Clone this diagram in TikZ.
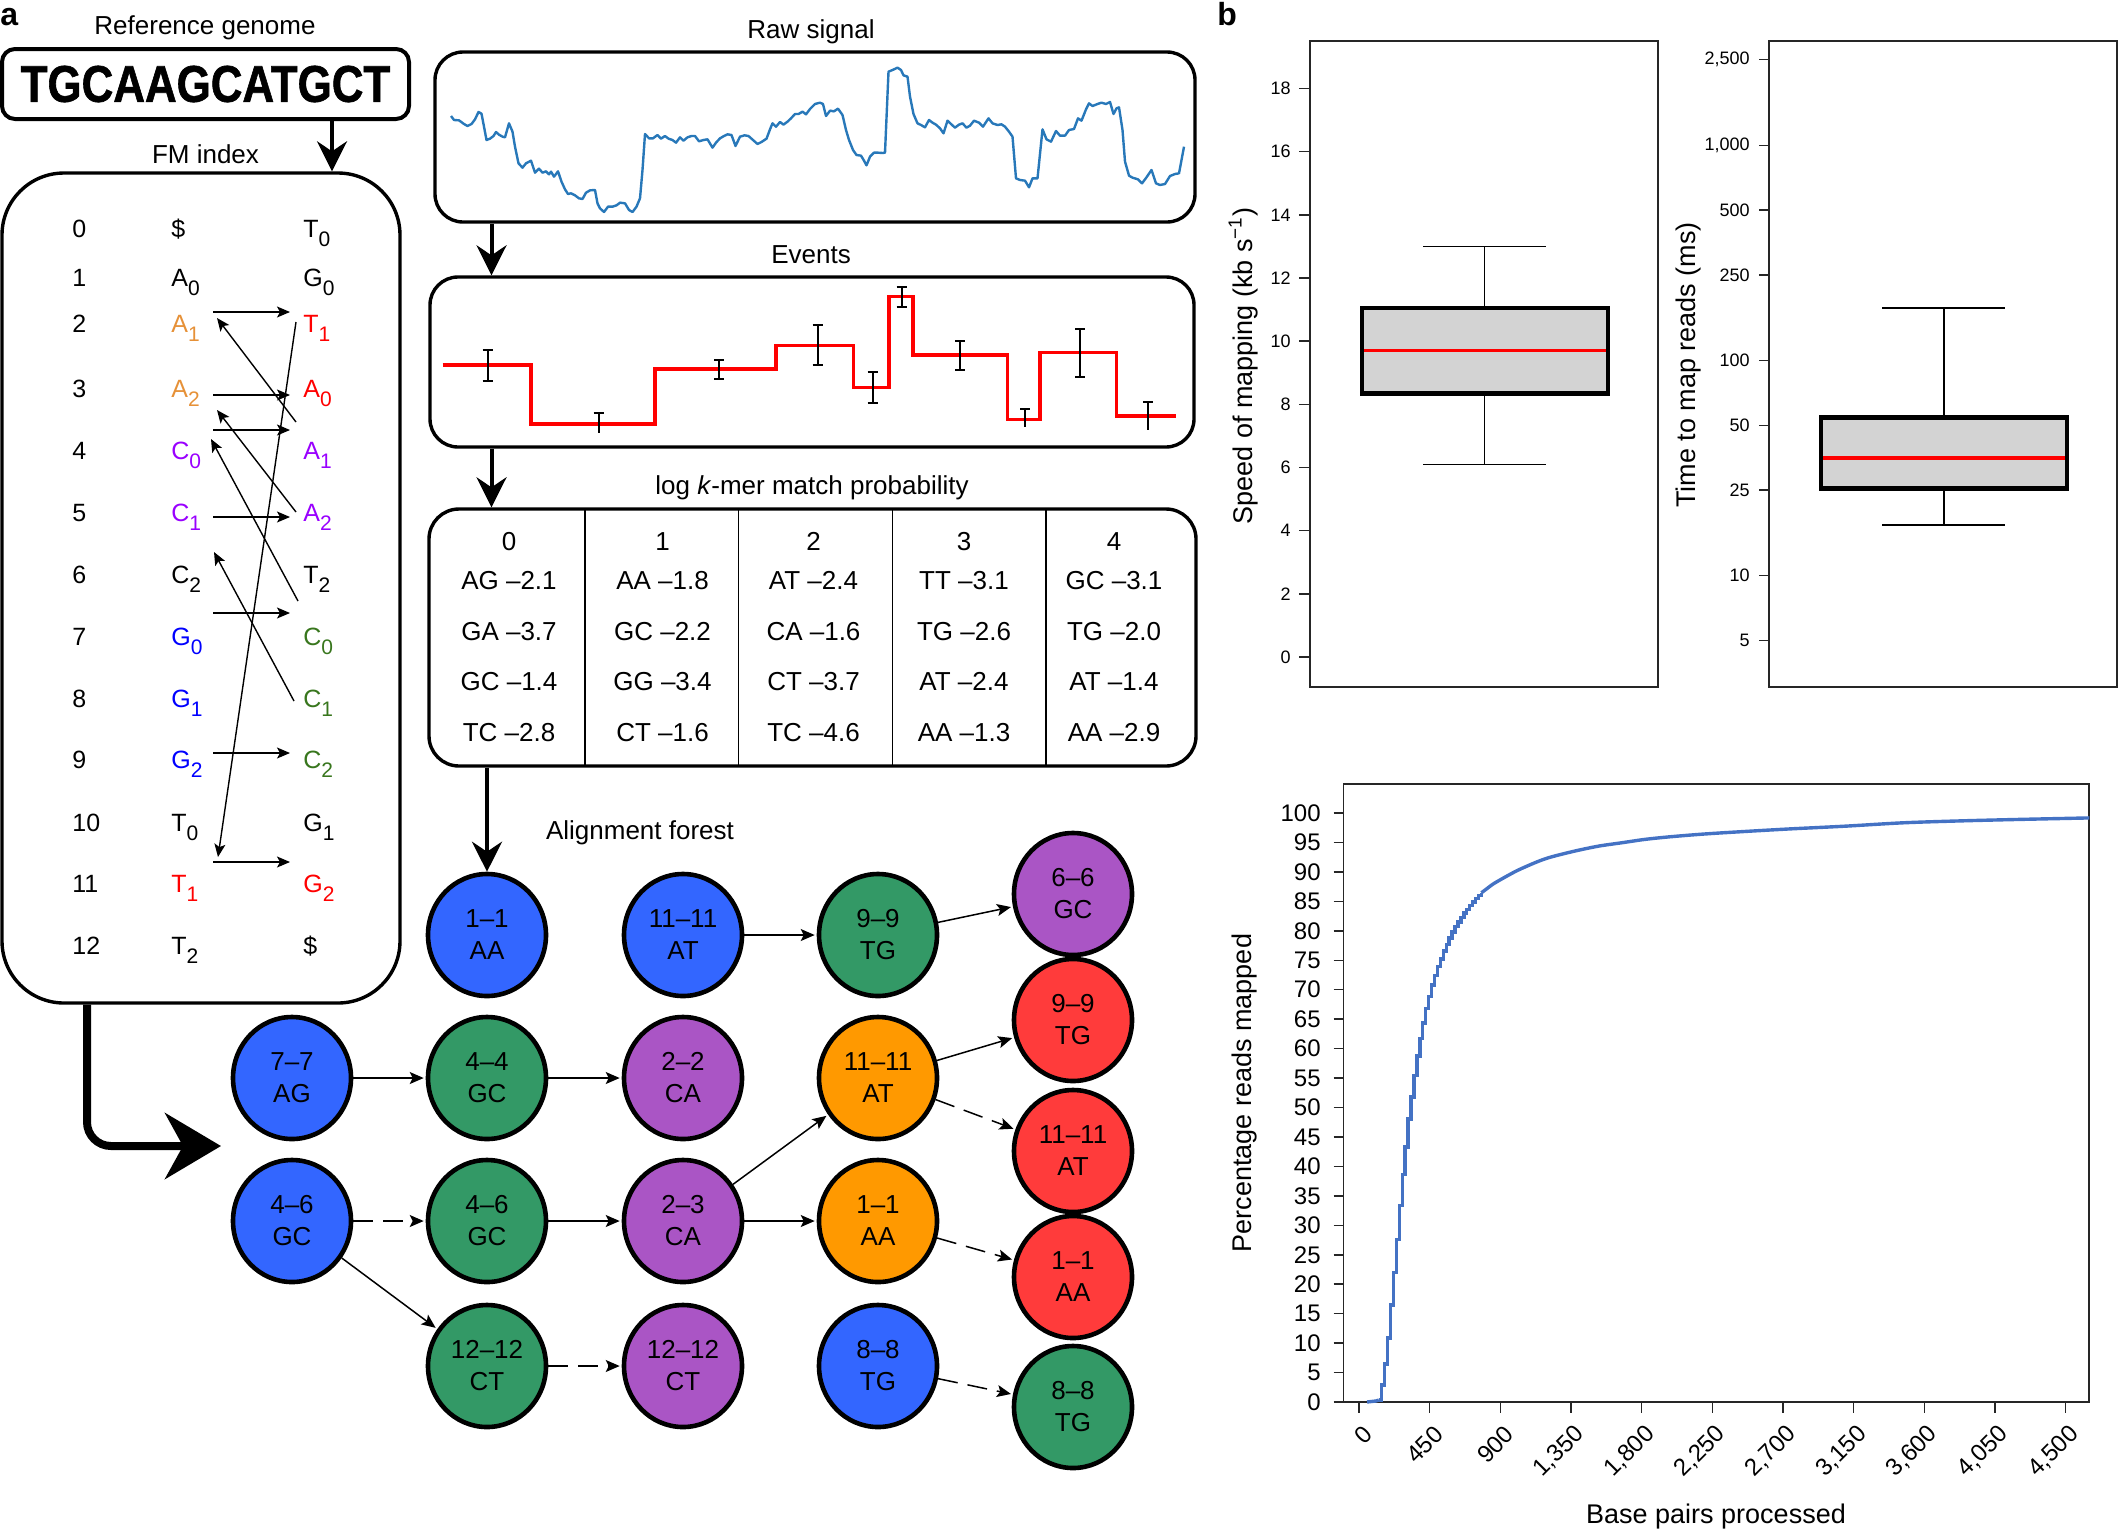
\documentclass[tikz,border=0pt]{standalone}
\usepackage{fontspec}
\setmainfont{Liberation Sans}
\newfontfamily\genomefont{Liberation Sans Bold}[FakeBold=1.3]
\usetikzlibrary{shapes.geometric,arrows.meta}
\definecolor{fmorange}{RGB}{230,145,56}
\definecolor{fmred}{RGB}{255,0,0}
\definecolor{fmpurple}{RGB}{153,0,255}
\definecolor{fmblue}{RGB}{0,0,255}
\definecolor{fmgreen}{RGB}{56,118,29}
\definecolor{nblue}{RGB}{51,102,255}
\definecolor{ngreen}{RGB}{51,153,102}
\definecolor{npurple}{RGB}{170,85,197}
\definecolor{norange}{RGB}{255,153,0}
\definecolor{nred}{RGB}{255,59,59}
\definecolor{sigblue}{RGB}{40,120,185}
\definecolor{curveblue}{RGB}{68,114,196}
\definecolor{boxgray}{RGB}{211,211,211}
\newcommand{\fs}[2]{#1\raisebox{-4.5pt}{\fontsize{10.5}{10.5}\selectfont #2}}
\begin{document}
\begin{tikzpicture}[x=0.5pt,y=-0.5pt,
  txt/.style={inner sep=0pt, font=\fontsize{13}{15.6}\selectfont},
  axlab/.style={inner sep=0pt, font=\fontsize{13.5}{16}\selectfont},
  fmtxt/.style={inner sep=0pt, anchor=base west, font=\fontsize{12.5}{15}\selectfont},
  panelbox/.style={draw, line width=1.7pt, inner sep=0pt},
  bigarrow/.style={line width=2pt, -{Stealth[length=15pt,width=15pt,inset=5pt]}},
  fmarrow/.style={line width=0.7pt, -{Stealth[length=6.5pt,width=5.5pt,inset=1.5pt]}},
  fedge/.style={line width=0.75pt, -{Stealth[length=7pt,width=6pt,inset=1.5pt]}, shorten >=1pt},
  fdash/.style={fedge, dash pattern=on 10pt off 5pt},
  fnode/.style={ellipse, draw, line width=2.3pt, minimum width=59pt, minimum height=61pt, inner sep=0pt, align=center, font=\fontsize{13}{16}\selectfont},
  ticklab/.style={inner sep=0pt, anchor=east, font=\fontsize{9}{10}\selectfont},
  pticklab/.style={inner sep=0pt, anchor=east, font=\fontsize{12}{12}\selectfont},
  axisline/.style={line width=0.75pt, black!85},
  tabtxt/.style={inner sep=0pt, anchor=base, font=\fontsize{13}{15.6}\selectfont}
]
\useasboundingbox (0,0) rectangle (2119,1532);

% panel labels
\node[inner sep=0pt, anchor=base west, font=\fontsize{16}{16}\selectfont\bfseries] (lbla) at (0,25) {a};
\node[inner sep=0pt, anchor=base west, font=\fontsize{16}{16}\selectfont\bfseries] (lblb) at (1217,25) {b};

% reference genome
\node[txt, anchor=base] (refgen) at (205,34) {Reference genome};
\node[panelbox, line width=2pt, rounded corners=6.5pt, minimum width=203.5pt, minimum height=35pt] (genome) at (205.5,84)
  {\scalebox{0.85}[1]{\fontsize{25.8}{26}\genomefont TGCAAGCATGCT}};
\node[txt, anchor=base] (fmlabel) at (205.5,163) {FM index};
\node[panelbox, rounded corners=31pt, minimum width=199pt, minimum height=415pt] (fmbox) at (201,588) {};
\coordinate (gx) at (332,0);
\draw[bigarrow] (genome.south -| gx) -- (fmbox.north -| gx);

% FM index rows
\foreach \r/\yy in {0/237,1/286,2/332,3/397,4/459,5/521,6/583,7/645,8/707,9/768,10/831,11/892,12/954}{
  \node[fmtxt] (i\r) at (72,\yy) {\r};
}
\node[fmtxt] (m0) at (171,237) {\$};
\node[fmtxt] (r0) at (303,237) {\fs{T}{0}};
\node[fmtxt] (m1) at (171,286) {\fs{A}{0}};
\node[fmtxt] (r1) at (303,286) {\fs{G}{0}};
\node[fmtxt, text=fmorange] (m2) at (171,332) {\fs{A}{1}};
\node[fmtxt, text=fmred] (r2) at (303,332) {\fs{T}{1}};
\node[fmtxt, text=fmorange] (m3) at (171,397) {\fs{A}{2}};
\node[fmtxt, text=fmred] (r3) at (303,397) {\fs{A}{0}};
\node[fmtxt, text=fmpurple] (m4) at (171,459) {\fs{C}{0}};
\node[fmtxt, text=fmpurple] (r4) at (303,459) {\fs{A}{1}};
\node[fmtxt, text=fmpurple] (m5) at (171,521) {\fs{C}{1}};
\node[fmtxt, text=fmpurple] (r5) at (303,521) {\fs{A}{2}};
\node[fmtxt] (m6) at (171,583) {\fs{C}{2}};
\node[fmtxt] (r6) at (303,583) {\fs{T}{2}};
\node[fmtxt, text=fmblue] (m7) at (171,645) {\fs{G}{0}};
\node[fmtxt, text=fmgreen] (r7) at (303,645) {\fs{C}{0}};
\node[fmtxt, text=fmblue] (m8) at (171,707) {\fs{G}{1}};
\node[fmtxt, text=fmgreen] (r8) at (303,707) {\fs{C}{1}};
\node[fmtxt, text=fmblue] (m9) at (171,768) {\fs{G}{2}};
\node[fmtxt, text=fmgreen] (r9) at (303,768) {\fs{C}{2}};
\node[fmtxt] (m10) at (171,831) {\fs{T}{0}};
\node[fmtxt] (r10) at (303,831) {\fs{G}{1}};
\node[fmtxt, text=fmred] (m11) at (171,892) {\fs{T}{1}};
\node[fmtxt, text=fmred] (r11) at (303,892) {\fs{G}{2}};
\node[fmtxt] (m12) at (171,954) {\fs{T}{2}};
\node[fmtxt] (r12) at (303,954) {\$};

% FM arrows
\foreach \yy [count=\k] in {312,395,430,517,613,753,862}{
  \coordinate (hs\k) at (213,\yy);
  \coordinate (he\k) at (290,\yy);
  \draw[fmarrow] (hs\k) -- (he\k);
}
\coordinate (ds1) at (296,422); \coordinate (de1) at (217,318);
\coordinate (ds2) at (296,512); \coordinate (de2) at (217,410);
\coordinate (ds3) at (298,601); \coordinate (de3) at (211,439);
\coordinate (ds4) at (294,701); \coordinate (de4) at (214,552);
\coordinate (ds5) at (296,322); \coordinate (de5) at (218,857);
\foreach \k in {1,...,5}{\draw[fmarrow] (ds\k) -- (de\k);}

% raw signal
\node[txt, anchor=base] (rawlabel) at (811,38) {Raw signal};
\node[panelbox, rounded corners=14pt, minimum width=380pt, minimum height=85pt] (rawbox) at (815,137) {};
\node[txt, anchor=base] (evlabel) at (811,263) {Events};
\node[panelbox, rounded corners=14pt, minimum width=382pt, minimum height=85pt] (evbox) at (812,362) {};
\coordinate (ax) at (491.5,0);
\draw[bigarrow] (rawbox.south -| ax) -- (evbox.north -| ax);

\begin{scope}[shift={(420,30)}, xscale=0.5, yscale=0.33333]
\draw[sigblue, line width=1.2pt, line join=round] plot coordinates {
(62,258) (68,270) (78,271) (88,282) (95,288) (103,282) (110,268) (117,246) (123,251) (128,290) (133,330) (140,326) (147,318) (152,306) (158,314) (165,320) (170,322) (178,280) (185,305) (190,350) (197,400) (205,413) (212,400) (222,392) (230,428) (238,416) (245,428) (252,424) (258,433) (262,425) (268,440) (276,424) (283,455) (290,478) (296,492) (302,490) (310,496) (318,505) (325,507) (332,488) (340,481) (350,480) (355,520) (360,535) (368,546) (376,530) (385,530) (393,526) (400,518) (410,520) (418,540) (425,546) (433,530) (440,505) (445,420) (450,312) (458,325) (466,325) (475,315) (482,326) (490,318) (497,326) (505,330) (512,338) (520,322) (527,332) (535,322) (543,318) (550,318) (558,334) (567,330) (575,328) (585,353) (592,338) (600,325) (608,318) (615,313) (623,315) (631,348) (640,320) (649,316) (657,318) (666,330) (675,342) (683,336) (693,326) (700,298) (705,280) (712,290) (720,276) (727,284) (735,275) (742,265) (750,252) (757,252) (765,245) (772,253) (780,237) (790,222) (800,218) (806,222) (812,258) (820,242) (828,244) (836,236) (845,255) (852,300) (858,330) (866,360) (873,375) (882,377) (888,392) (893,406) (900,380) (908,368) (916,368) (925,369) (930,368) (937,125) (945,120) (955,113) (962,120) (967,136) (975,140) (980,200) (987,252) (995,280) (1002,285) (1010,292) (1018,270) (1025,278) (1032,284) (1040,295) (1047,310) (1055,272) (1062,282) (1070,293) (1078,284) (1085,280) (1093,293) (1100,287) (1108,272) (1118,278) (1126,290) (1137,265) (1145,280) (1155,285) (1163,283) (1170,290) (1178,305) (1185,320) (1192,445) (1200,450) (1210,452) (1218,472) (1225,445) (1235,445) (1245,298) (1253,328) (1262,335) (1272,303) (1280,317) (1290,317) (1298,300) (1308,297) (1316,265) (1323,272) (1332,238) (1338,220) (1345,228) (1355,222) (1363,218) (1372,222) (1380,216) (1387,252) (1393,235) (1398,232) (1405,300) (1410,395) (1418,437) (1425,443) (1436,448) (1444,460) (1452,444) (1463,420) (1472,460) (1480,465) (1490,462) (1500,438) (1510,432) (1518,430) (1528,350)};
\draw[red, line width=1.7pt] plot coordinates {
(45,1005) (222,1005) (222,1182) (470,1182) (470,1017) (712,1017) (712,947) (867,947) (867,1073) (938,1073) (938,800) (986,800) (986,975) (1175,975) (1175,1168) (1240,1168) (1240,967) (1393,967) (1393,1158) (1512,1158)};
\foreach \ex/\ea/\eb in {135/960/1052,598/990/1048,795/886/1005,905/1027/1120,963/772/830,1080/934/1020,1320/898/1040}{
  \draw[line width=1pt] (\ex,\ea) -- (\ex,\eb);
  \draw[line width=1pt] (\ex-10,\ea) -- (\ex+10,\ea);
  \draw[line width=1pt] (\ex-10,\eb) -- (\ex+10,\eb);
}
\foreach \ex/\ea/\eb in {357/1150/1208,1210/1138/1192,1456/1116/1200}{
  \draw[line width=1pt] (\ex,\ea) -- (\ex,\eb);
  \draw[line width=1pt] (\ex-10,\ea) -- (\ex+10,\ea);
}
\end{scope}

% k-mer table
\node[txt, anchor=base] (kmerlabel) at (812,494) {log \textit{k}-mer match probability};
\node[panelbox, rounded corners=15pt, minimum width=383.5pt, minimum height=128.5pt] (tabbox) at (812.5,637.5) {};
\draw[bigarrow] (evbox.south -| ax) -- (tabbox.north -| ax);
\foreach \sx in {585,738.5,892.5,1046}{\draw[line width=0.8pt] (\sx,509) -- (\sx,766);}
\foreach \c/\cx/\a/\b/\cc/\d in {
  0/509/AG –2.1/GA –3.7/GC –1.4/TC –2.8,
  1/662.5/AA –1.8/GC –2.2/GG –3.4/CT –1.6,
  2/813.5/AT –2.4/CA –1.6/CT –3.7/TC –4.6,
  3/964/TT –3.1/TG –2.6/AT –2.4/AA –1.3,
  4/1114/GC –3.1/TG –2.0/AT –1.4/AA –2.9}{
  \node[tabtxt] (th\c) at (\cx,550) {\c};
  \node[tabtxt] (ta\c) at (\cx,589) {\a};
  \node[tabtxt] (tb\c) at (\cx,640) {\b};
  \node[tabtxt] (tc\c) at (\cx,690.5) {\cc};
  \node[tabtxt] (td\c) at (\cx,741) {\d};
}

% alignment forest
\node[txt, anchor=base] (forestlabel) at (640,839) {Alignment forest};
\node[fnode, fill=nblue]   (f1)  at (487,935)  {1–1\\AA};
\node[fnode, fill=nblue]   (f2)  at (683,935)  {11–11\\AT};
\node[fnode, fill=ngreen]  (f3)  at (878,935)  {9–9\\TG};
\node[fnode, fill=npurple] (f4)  at (1073,894) {6–6\\GC};
\node[fnode, fill=nblue]   (f5)  at (292,1078) {7–7\\AG};
\node[fnode, fill=ngreen]  (f6)  at (487,1078) {4–4\\GC};
\node[fnode, fill=npurple] (f7)  at (683,1078) {2–2\\CA};
\node[fnode, fill=norange] (f8)  at (878,1078) {11–11\\AT};
\node[fnode, fill=nred]    (f9)  at (1073,1020) {9–9\\TG};
\node[fnode, fill=nred]    (f10) at (1073,1151) {11–11\\AT};
\node[fnode, fill=nblue]   (f11) at (292,1221) {4–6\\GC};
\node[fnode, fill=ngreen]  (f12) at (487,1221) {4–6\\GC};
\node[fnode, fill=npurple] (f13) at (683,1221) {2–3\\CA};
\node[fnode, fill=norange] (f14) at (878,1221) {1–1\\AA};
\node[fnode, fill=nred]    (f15) at (1073,1277) {1–1\\AA};
\node[fnode, fill=ngreen]  (f16) at (487,1366) {12–12\\CT};
\node[fnode, fill=npurple] (f17) at (683,1366) {12–12\\CT};
\node[fnode, fill=nblue]   (f18) at (878,1366) {8–8\\TG};
\node[fnode, fill=ngreen]  (f19) at (1073,1407) {8–8\\TG};
\draw[bigarrow] (tabbox.south -| f1) -- (f1.north);
\draw[fedge] (f2) -- (f3);
\draw[fedge] (f3) -- (f4);
\draw[fedge] (f5) -- (f6);
\draw[fedge] (f6) -- (f7);
\draw[fedge] (f8) -- (f9);
\draw[fdash] (f8) -- (f10);
\draw[fdash] (f11) -- (f12);
\draw[fedge] (f12) -- (f13);
\draw[fedge] (f13) -- (f8);
\draw[fedge] (f13) -- (f14);
\draw[fdash] (f14) -- (f15);
\draw[fedge] (f11) -- (f16);
\draw[fdash] (f16) -- (f17);
\draw[fdash] (f18) -- (f19);

% thick arrow FM -> forest
\coordinate (tx) at (87,0);
\coordinate (ttip) at (221,1146);
\draw[line width=4pt, rounded corners=12pt, -{Stealth[length=28pt,width=33pt,inset=9pt]}] (fmbox.south -| tx) |- (ttip);

% panel b: box plot 1
\draw[axisline] (1310,41) rectangle (1658,687);
\foreach \v in {0,2,...,18}{
  \draw[axisline] (1299,{657-31.58*\v}) -- (1310,{657-31.58*\v});
  \node[ticklab] (ya\v) at (1291,{657-31.58*\v}) {\v};
}
\draw[line width=0.8pt] (1484.5,246.5) -- (1484.5,308);
\draw[line width=0.8pt] (1484.5,393.3) -- (1484.5,464.4);
\draw[line width=0.8pt] (1423,246.5) -- (1546,246.5);
\draw[line width=0.8pt] (1423,464.4) -- (1546,464.4);
\filldraw[fill=boxgray, line width=2.2pt] (1362,308) rectangle (1608,393.3);
\draw[red, line width=1.6pt] (1364,350.7) -- (1606,350.7);
\node[axlab, rotate=90, anchor=base] (ylab1) at (1252,366) {Speed of mapping (kb s\textsuperscript{−1})};

% box plot 2
\draw[axisline] (1769,41) rectangle (2117,687);
\foreach \v/\lab in {5/5,10/10,25/25,50/50,100/100,250/250,500/500,1000/{1,000},2500/{2,500}}{
  \pgfmathsetmacro\yy{790.9-215.2*log10(\v)}
  \draw[axisline] (1759,\yy) -- (1769,\yy);
  \node[ticklab] (yb\v) at (1750,\yy) {\lab};
}
\draw[line width=0.8pt] (1944,308) -- (1944,417.3);
\draw[line width=0.8pt] (1944,488.5) -- (1944,525);
\draw[line width=0.8pt] (1882,308) -- (2005,308);
\draw[line width=0.8pt] (1882,525) -- (2005,525);
\filldraw[fill=boxgray, line width=2.2pt] (1821,417.3) rectangle (2067,488.5);
\draw[red, line width=1.6pt] (1823,458) -- (2065,458);
\node[axlab, rotate=90, anchor=base] (ylab2) at (1695,365) {Time to map reads (ms)};

% cumulative plot
\draw[axisline] (1343.6,784) rectangle (2089,1402);
\foreach \v in {0,5,...,100}{
  \draw[axisline] (1333.6,{1402-5.89*\v}) -- (1343.6,{1402-5.89*\v});
  \node[pticklab] (yp\v) at (1321,{1402-5.89*\v}) {\v};
}
\foreach \v/\lab in {0/0,450/450,900/900,1350/{1,350},1800/{1,800},2250/{2,250},2700/{2,700},3150/{3,150},3600/{3,600},4050/{4,050},4500/{4,500}}{
  \pgfmathsetmacro\xx{1358.9+0.15706*\v}
  \draw[axisline] (\xx,1402) -- (\xx,1413);
  \node[inner sep=0pt, rotate=45, anchor=east, font=\fontsize{12}{12}\selectfont] (xp\v) at ({\xx+9.5},1430) {\lab};
}
\begin{scope}[shift={(1200,770.3)}, xscale=0.5862, yscale=0.4859]
\draw[curveblue, line width=1.7pt] (285,1300) -- (300,1298) -- (305,1296);
\draw[curveblue, line width=1.7pt, const plot] plot coordinates {(305,1296) (310,1265) (315,1222) (320,1168) (325,1100) (330,1033) (335,965) (340,895) (345,832) (350,775) (355,718) (360,672) (365,628) (370,588) (375,552) (380,520) (385,490) (390,465) (395,442) (400,422) (405,404) (410,388) (415,372) (420,358) (425,345) (430,333) (435,322) (440,312) (445,303) (450,294) (455,286) (460,278) (465,271) (470,264) (475,258) (480,252)};
\draw[curveblue, line width=1.7pt, line join=round] plot[smooth] coordinates {(480,252) (490,243) (500,234) (520,220) (540,207) (560,196) (580,186) (600,178) (640,166) (680,156) (720,149) (760,142) (800,137) (850,132) (900,128) (1000,121) (1100,115) (1200,108) (1300,104) (1400,101) (1517,98)};
\end{scope}
\node[axlab, rotate=90, anchor=base] (ylab3) at (1251,1093) {Percentage reads mapped};
\node[axlab, anchor=base] (xlab3) at (1716,1523) {Base pairs processed};
\end{tikzpicture}
\end{document}
